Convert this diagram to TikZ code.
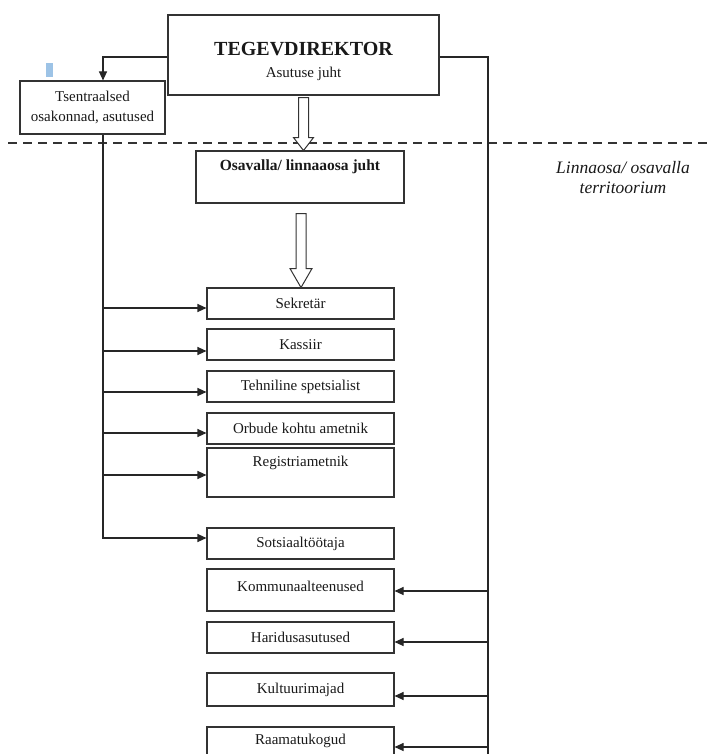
\documentclass[tikz,border=0pt]{standalone}
\usepackage{fontspec}
\setmainfont{Liberation Serif}
\usetikzlibrary{calc,arrows.meta}
\definecolor{markblue}{RGB}{157,195,230}
\begin{document}
\begin{tikzpicture}[x=1pt,y=-1pt,
  line width=1.1pt,
  box/.style={draw=black!80, rectangle, inner sep=0pt, minimum width=187pt, font=\fontsize{15}{19}\selectfont, text=black!90},
  lbl/.style={font=\fontsize{15}{19}\selectfont, text=black!90},
  arr/.style={draw=black!85, -{Triangle[length=9pt,width=8pt]}},
  conn/.style={draw=black!85},
  hollow/.style={draw=black!80, fill=white, line width=1pt}]
\useasboundingbox (0,0) rectangle (708,754);
\clip (0,0) rectangle (708,754);
% blue mark
\fill[markblue] (46,63) rectangle (53,77);
% main boxes
\node[draw=black!80, rectangle, inner sep=0pt, minimum width=271pt, minimum height=80pt] (tegev) at (303.5,55) {};
\node[font=\fontsize{20}{22}\selectfont\bfseries, text=black!90] (tegevt) at (303.5,49) {TEGEVDIREKTOR};
\node[lbl] (tegevs) at (303.5,74) {Asutuse juht};
\node[draw=black!80, rectangle, inner sep=0pt, minimum width=145pt, minimum height=53pt, align=center, font=\fontsize{15}{20}\selectfont, text=black!90] (tsent) at (92.5,107.5)
  {Tsentraalsed\\osakonnad, asutused};
\node[draw=black!80, rectangle, inner sep=0pt, minimum width=208pt, minimum height=52pt] (osav) at (300,177) {};
\node[font=\fontsize{15.5}{18}\selectfont\bfseries, text=black!90] (osavt) at (osav.center |- 0,167) {Osavalla/ linnaaosa juht};
% dashed line
\draw[black!80, dash pattern=on 9pt off 6pt] (8,143) -- (708,143);
\node[font=\fontsize{17.5}{20}\selectfont\itshape, align=center, text=black!90] (terr) at (623,178) {Linnaosa/ osavalla\\territoorium};
% column boxes
\node[box, minimum height=31pt] (sek) at (300.5,303.5) {Sekretär};
\node[box, minimum height=31pt] (kas) at (300.5,344.5) {Kassiir};
\node[box, minimum height=31pt] (teh) at (300.5,386.5) {Tehniline spetsialist};
\node[box, minimum height=31pt] (orb) at (300.5,428.5) {Orbude kohtu ametnik};
\node[box, minimum height=49pt, label={[lbl, yshift=9.5pt]center:Registriametnik}] (reg) at (300.5,472.5) {};
\node[box, minimum height=31pt] (sot) at (300.5,543.5) {Sotsiaaltöötaja};
\node[box, minimum height=42pt, label={[lbl, yshift=4pt]center:Kommunaalteenused}] (kom) at (300.5,590) {};
\node[box, minimum height=31pt] (har) at (300.5,637.5) {Haridusasutused};
\node[box, minimum height=33pt] (kul) at (300.5,689.5) {Kultuurimajad};
\node[box, minimum height=40pt, label={[lbl, yshift=6pt]center:Raamatukogud}] (raa) at (300.5,747) {};
% hollow arrows
\draw[hollow] ($(tegev.south)+(-5,2)$) -- ($(tegev.south)+(5,2)$) -- ($(tegev.south)+(5,42)$) -- ($(tegev.south)+(10,42)$)
  -- ($(tegev.south)+(0,55)$) -- ($(tegev.south)+(-10,42)$) -- ($(tegev.south)+(-5,42)$) -- cycle;
\draw[hollow] ($(osav.south)+(-4,10)$) -- ($(osav.south)+(6,10)$) -- ($(osav.south)+(6,65)$) -- ($(osav.south)+(12,65)$)
  -- ($(osav.south)+(1,84)$) -- ($(osav.south)+(-10,65)$) -- ($(osav.south)+(-4,65)$) -- cycle;
% connectors
\coordinate (lx) at (103,0);
\coordinate (rx) at (488,0);
\draw[arr] (tegev.west |- 0,57) -| (lx |- tsent.north);
\draw[arr] (lx |- tsent.south) |- (sot.west |- 0,538);
\draw[arr] (lx |- 0,308) -- (sek.west |- 0,308);
\draw[arr] (lx |- 0,351) -- (kas.west |- 0,351);
\draw[arr] (lx |- 0,392) -- (teh.west |- 0,392);
\draw[arr] (lx |- 0,433) -- (orb.west |- 0,433);
\draw[arr] (lx |- 0,475) -- (reg.west |- 0,475);
\draw[conn] (tegev.east |- 0,57) -| (rx |- 0,770);
\draw[arr] (rx |- 0,591) -- (kom.east |- 0,591);
\draw[arr] (rx |- 0,642) -- (har.east |- 0,642);
\draw[arr] (rx |- 0,696) -- (kul.east |- 0,696);
\draw[arr] (rx |- 0,747) -- (raa.east |- 0,747);
\end{tikzpicture}
\end{document}
